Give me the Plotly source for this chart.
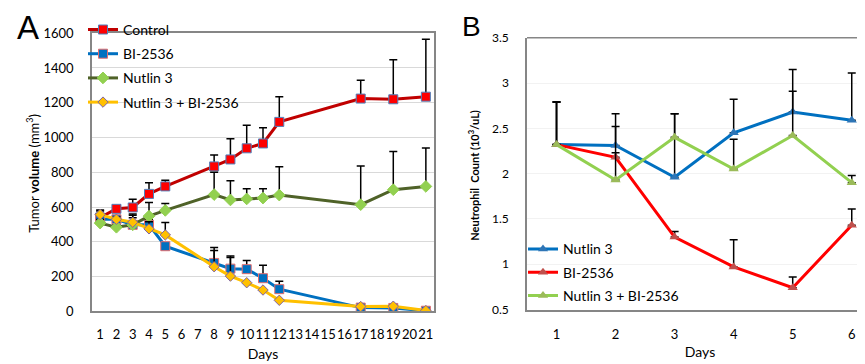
import plotly.graph_objects as go

# ---------------- Panel A data ----------------
days_a = [1, 2, 3, 4, 5, 8, 9, 10, 11, 12, 17, 19, 21]
control = [540, 590, 598, 676, 719, 834, 874, 938, 966, 1090, 1224, 1220, 1235]
control_err = [43, 15, 47, 64, 36, 66, 119, 132, 91, 145, 106, 227, 330]
bi2536 = [530, 530, 498, 498, 375, 279, 246, 243, 191, 128, 22, 20, 4]
bi2536_err = [25, 10, 55, 30, 20, 89, 73, 50, 75, 46, 0, 0, 0]
nutlin = [508, 484, 498, 548, 581, 672, 641, 647, 652, 669, 614, 700, 719]
nutlin_err = [20, 15, 40, 79, 40, 128, 111, 58, 53, 163, 222, 220, 221]
combo = [557, 530, 513, 475, 440, 257, 203, 165, 123, 64, 28, 30, 5]
combo_err = [20, 15, 47, 40, 71, 93, 107, 0, 0, 0, 0, 0, 0]
ticks_a = list(range(1, 22))

# ---------------- Panel B data ----------------
days_b = [1, 2, 3, 4, 5, 6]
nutlin_b = [2.32, 2.31, 1.96, 2.45, 2.68, 2.59]
nutlin_b_err = [0.47, 0.35, 0.70, 0.37, 0.47, 0.52]
bi_b = [2.32, 2.18, 1.30, 0.97, 0.74, 1.43]
bi_b_err = [0.47, 0.05, 0.06, 0.30, 0.12, 0.18]
combo_b = [2.32, 1.93, 2.40, 2.05, 2.42, 1.90]
combo_b_err = [0.47, 0.59, 0.26, 0.33, 0.49, 0.08]

FONT = "Lato, Open Sans, sans-serif"
W, H = 865, 364


def err(vals):
    return dict(type="data", array=vals, arrayminus=[0] * len(vals), symmetric=False,
                color="black", thickness=1.5, width=4, visible=True)


fig = go.Figure()

# Panel A traces
specs_a = [
    ("Control", control, control_err, "#C00000", "square", "#FF0000", "#4F81BD", 9),
    ("BI-2536", bi2536, bi2536_err, "#0070C0", "square", "#0070C0", "#E46C6C", 9),
    ("Nutlin 3", nutlin, nutlin_err, "#4F6228", "diamond", "#92D050", "#92D050", 9),
    ("Nutlin 3 + BI-2536", combo, combo_err, "#FFC000", "diamond", "#FFC000", "#8064A2", 8),
]
for i, (name, ys, es, lc, sym, fc, bc, sz) in enumerate(specs_a):
    fig.add_trace(go.Scatter(
        x=days_a, y=ys, name=name, mode="lines+markers",
        line=dict(color=lc, width=3),
        marker=dict(symbol=sym, size=sz, color=fc, line=dict(color=bc, width=1)),
        error_y=err(es), xaxis="x", yaxis="y", legend="legend",
        legendgroup="a%d" % i,
    ))

# Panel B traces
specs_b = [
    ("Nutlin 3", nutlin_b, nutlin_b_err, "#0070C0", "#2E75B6"),
    ("BI-2536", bi_b, bi_b_err, "#FF0000", "#C0504D"),
    ("Nutlin 3 + BI-2536", combo_b, combo_b_err, "#92D050", "#9BBB59"),
]
for i, (name, ys, es, lc, mc) in enumerate(specs_b):
    fig.add_trace(go.Scatter(
        x=days_b, y=ys, name=name, mode="lines+markers",
        line=dict(color=lc, width=3),
        marker=dict(symbol="triangle-up", size=9, color=mc),
        error_y=err(es), xaxis="x2", yaxis="y2", legend="legend2",
        legendgroup="b%d" % i,
    ))

axcol = "#868686"
fig.update_layout(
    width=W, height=H,
    margin=dict(l=0, r=0, t=0, b=0),
    paper_bgcolor="white", plot_bgcolor="white",
    font=dict(family=FONT, size=13, color="black"),
    showlegend=True,
    xaxis=dict(domain=[84 / W, 426 / W], range=[0.5, 21.5], tickvals=ticks_a,
               tickangle=0, showgrid=False, zeroline=False, showline=True,
               linecolor=axcol, linewidth=2,
               mirror=True, ticks="", ticklabelstandoff=10,
               title=dict(text="Days", standoff=8, font=dict(size=14)), anchor="y"),
    yaxis=dict(domain=[(H - 309) / H, (H - 18) / H], range=[0, 1600], dtick=200,
               showgrid=True, gridcolor="#D9D9D9", zeroline=False, showline=True,
               linecolor=axcol, linewidth=1.5, mirror=True, ticks="", ticklabelstandoff=14,
               anchor="x"),
    xaxis2=dict(domain=[519 / W, 1.0], range=[0.5, 6.36], tickvals=days_b,
                tickangle=0, showgrid=False, zeroline=False, showline=True,
                linecolor=axcol, linewidth=2,
                ticks="", ticklabelstandoff=12,
                title=dict(text="Days", standoff=6, font=dict(size=14)), anchor="y2"),
    yaxis2=dict(domain=[(H - 307) / H, (H - 22.7) / H], range=[0.5, 3.5], dtick=0.5,
                tickfont=dict(size=12),
                showgrid=True, gridcolor="#F2F2F2", zeroline=False, showline=True,
                linecolor=axcol, linewidth=1.5, ticks="", ticklabelstandoff=14, anchor="x2"),
    legend=dict(x=75 / W, xanchor="left", y=1.006, yanchor="top",
                bgcolor="rgba(255,255,255,0)", font=dict(size=14), tracegroupgap=3,
                itemclick=False),
    legend2=dict(x=515 / W, xanchor="left", y=(H - 309) / H, yanchor="bottom",
                 bgcolor="rgba(255,255,255,0)", font=dict(size=14), tracegroupgap=2,
                 itemclick=False),
)
# top border for panel B
fig.add_shape(type="line", xref="paper", yref="paper", x0=519 / W, x1=1.0,
              y0=(H - 22.7) / H, y1=(H - 22.7) / H, line=dict(color=axcol, width=1.5))

fig.add_annotation(text="Tumor <b>volume</b> (mm<sup>3</sup>)", textangle=-90,
                   xref="paper", yref="paper", x=25 / W, y=(H - 165) / H,
                   xanchor="center", yanchor="middle",
                   showarrow=False, font=dict(size=13))
fig.add_annotation(text="<b>Neutrophil  Count (10<sup>3</sup>/uL)</b>", textangle=-90,
                   xref="paper", yref="paper", x=466 / W, y=(H - 166) / H,
                   xanchor="center", yanchor="middle",
                   showarrow=False, font=dict(size=11))
fig.add_annotation(text="A", xref="paper", yref="paper", x=20 / W, y=(H - 12) / H,
                   xanchor="center", yanchor="middle",
                   showarrow=False, font=dict(size=33, family="Liberation Sans"))
fig.add_annotation(text="B", xref="paper", yref="paper", x=464 / W, y=(H - 11) / H,
                   xanchor="center", yanchor="middle",
                   showarrow=False, font=dict(size=28, family="Liberation Sans"))

fig.write_html("out.html")
